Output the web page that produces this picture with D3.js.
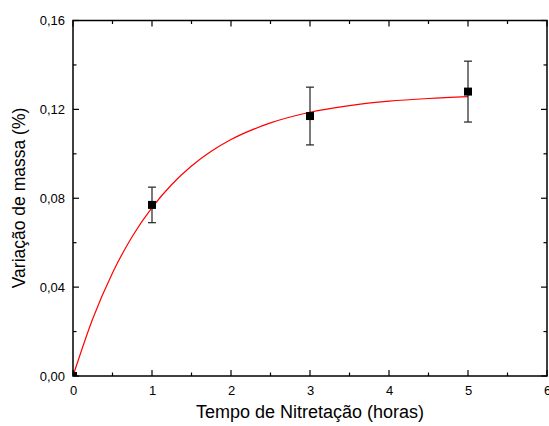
<!DOCTYPE html>
<html><head><meta charset="utf-8">
<script src="https://cdn.jsdelivr.net/npm/d3@7"></script>
<style>body{margin:0;background:#fff}svg{display:block}text{font-family:"Liberation Sans",Arial,sans-serif;fill:#000}</style>
</head><body><svg id="c" width="549" height="426"></svg>
<script>
const hours = [0, 1, 3, 5];
const massChange = [0, 0.077, 0.117, 0.128];
const errors = [0, 0.008, 0.013, 0.0137];
const fitX = [0, 0.25, 0.5, 0.75, 1, 1.25, 1.5, 1.75, 2, 2.5, 3, 3.5, 4, 4.5, 5];
const fitY = [0, 0.0258, 0.0464, 0.0628, 0.0758, 0.0862, 0.0945, 0.1011, 0.1064, 0.1139, 0.1187, 0.1217, 0.1237, 0.1249, 0.1257];
const xTicks = [0, 1, 2, 3, 4, 5, 6];
const yTicks = [0, 0.04, 0.08, 0.12, 0.16];

const svg = d3.select("#c");
const L = 73, R = 547, T = 20.5, B = 376;
const x = d3.scaleLinear().domain([0, 6]).range([L, R]);
const y = d3.scaleLinear().domain([0, 0.16]).range([B, T]);
const fmt = d => d3.format(".2f")(d).replace(".", ",");

svg.append("clipPath").attr("id", "clip").append("rect")
  .attr("x", L).attr("y", T).attr("width", R - L).attr("height", B - T);

// fit curve
const line = d3.line().x((d, i) => x(fitX[i])).y(d => y(d)).curve(d3.curveMonotoneX);
svg.append("path").datum(fitY).attr("d", line).attr("fill", "none")
  .attr("stroke", "#ff0000").attr("stroke-width", 1.2).attr("clip-path", "url(#clip)");

// error bars
const g = svg.append("g");
hours.forEach((h, i) => {
  if (errors[i] <= 0) return;
  const cx = x(h);
  g.append("line").attr("x1", cx).attr("x2", cx).attr("y1", y(massChange[i] + errors[i])).attr("y2", y(massChange[i] - errors[i]))
    .attr("stroke", "#222").attr("stroke-width", 1.2);
  [massChange[i] + errors[i], massChange[i] - errors[i]].forEach(v => {
    g.append("line").attr("x1", cx - 4).attr("x2", cx + 4).attr("y1", y(v)).attr("y2", y(v))
      .attr("stroke", "#222").attr("stroke-width", 1.2);
  });
});
// markers
svg.append("g").attr("clip-path", "url(#clip)").selectAll("rect").data(hours).join("rect")
  .attr("x", d => x(d) - 4).attr("y", (d, i) => y(massChange[i]) - 4)
  .attr("width", 8).attr("height", 8).attr("fill", "#000");

// axes
const ax = svg.append("g");
const minorX = d3.range(0, 6.01, 0.5);
const minorY = d3.range(0, 0.1601, 0.02);
ax.append("g").attr("transform", `translate(0,${B})`)
  .call(d3.axisBottom(x).tickValues(xTicks).tickSize(0).tickPadding(10).tickFormat(d3.format("d")))
  .call(s => s.select(".domain").remove())
  .selectAll("text").attr("font-size", 13);
ax.append("g").attr("transform", `translate(${L},0)`)
  .call(d3.axisLeft(y).tickValues(yTicks).tickSize(0).tickPadding(8).tickFormat(fmt))
  .call(s => s.select(".domain").remove())
  .selectAll("text").attr("font-size", 13);

// frame
svg.append("rect").attr("x", L).attr("y", T).attr("width", R - L).attr("height", B - T)
  .attr("fill", "none").attr("stroke", "#000").attr("stroke-width", 1.5);

// inward ticks
minorX.forEach(v => {
  const major = Math.abs(v - Math.round(v)) < 1e-6;
  const len = major ? 6 : 3.5;
  svg.append("line").attr("x1", x(v)).attr("x2", x(v)).attr("y1", B).attr("y2", B - len).attr("stroke", "#000").attr("stroke-width", 1.2);
  svg.append("line").attr("x1", x(v)).attr("x2", x(v)).attr("y1", T).attr("y2", T + len).attr("stroke", "#000").attr("stroke-width", 1.2);
});
minorY.forEach((v, i) => {
  const major = i % 2 === 0;
  const len = major ? 6 : 3.5;
  svg.append("line").attr("x1", L).attr("x2", L + len).attr("y1", y(v)).attr("y2", y(v)).attr("stroke", "#000").attr("stroke-width", 1.2);
  svg.append("line").attr("x1", R).attr("x2", R - len).attr("y1", y(v)).attr("y2", y(v)).attr("stroke", "#000").attr("stroke-width", 1.2);
});

// titles
svg.append("text").attr("x", 310).attr("y", 418).attr("text-anchor", "middle").attr("font-size", 18)
  .text("Tempo de Nitretação (horas)");
svg.append("text").attr("transform", "translate(25,198) rotate(-90)").attr("text-anchor", "middle")
  .attr("font-size", 17.5).text("Variação de massa (%)");
</script></body></html>
